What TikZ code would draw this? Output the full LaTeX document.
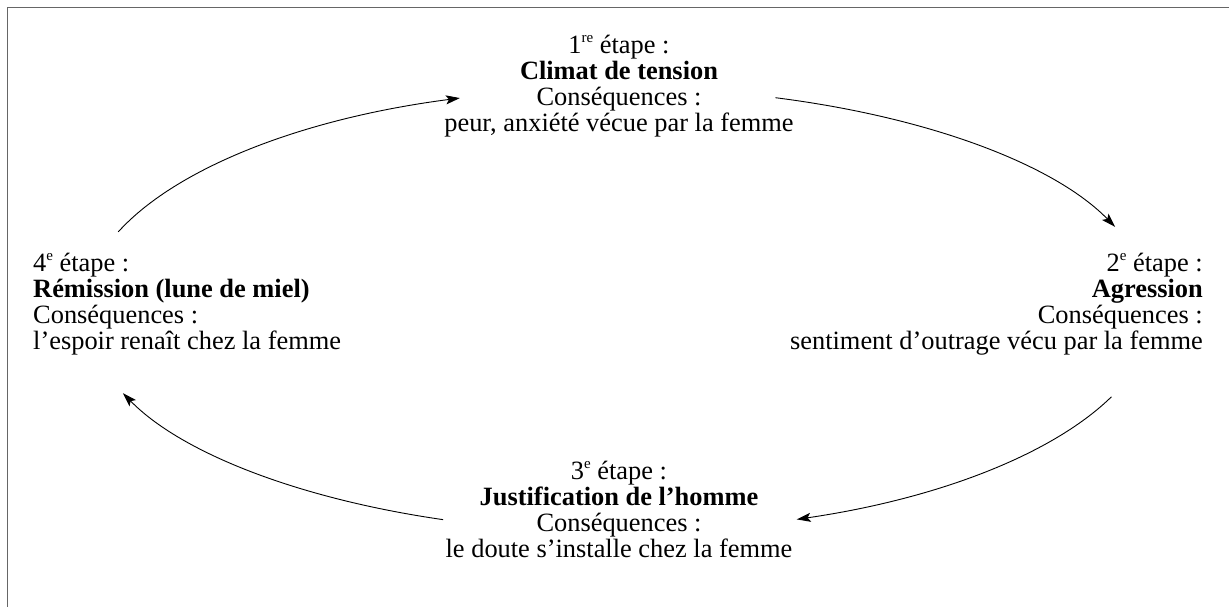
\documentclass[tikz,border=0pt]{standalone}
\usepackage{fontspec}
\setmainfont{Liberation Serif}
\usetikzlibrary{arrows.meta}
\newcommand\ordsup[1]{\raisebox{0.4em}{\fontsize{15}{15}\selectfont #1}}
\begin{document}
\begin{tikzpicture}[x=1pt,y=1pt,
  block/.style={inner sep=0pt, font=\fontsize{26.4}{26}\selectfont},
  conn/.style={line width=0.9pt, -{Stealth[length=14pt,width=9pt,inset=3pt]}},
  frameline/.style={line width=1.5pt, draw=black!60}]
\useasboundingbox (0,0) rectangle (1229,606);
\clip (0,0) rectangle (1229,606);
\draw[frameline] (7.5,-20) -- (7.5,598.5) -- (1250,598.5);

\node[block, align=center, anchor=north] (s1) at (619,571)
  {1\ordsup{re} étape :\\\textbf{Climat de tension}\\Conséquences :\\peur, anxiété vécue par la femme};
\node[block, align=right, anchor=north east] (s2) at (1203,353)
  {2\ordsup{e} étape :\\\textbf{Agression}\\Conséquences :\\sentiment d’outrage vécu par la femme};
\node[block, align=center, anchor=north] (s3) at (619,145)
  {3\ordsup{e} étape :\\\textbf{Justification de l’homme}\\Conséquences :\\le doute s’installe chez la femme};
\node[block, align=left, anchor=north west] (s4) at (33,353)
  {4\ordsup{e} étape :\\\textbf{Rémission (lune de miel)}\\Conséquences :\\l’espoir renaît chez la femme};

\coordinate (e) at (619,296);
\path (e) ++(159.4:535pt and 222pt) coordinate (a1s);
\path (e) ++(73:535pt and 222pt) coordinate (a2s);
\path (e) ++(-23:535pt and 222pt) coordinate (a3s);
\path (e) ++(-109.2:535pt and 222pt) coordinate (a4s);

\draw[conn] (a1s) arc[start angle=159.4, end angle=107.3, x radius=535pt, y radius=222pt];
\draw[conn] (a2s) arc[start angle=73, end angle=22, x radius=535pt, y radius=222pt];
\draw[conn] (a3s) arc[start angle=-23, end angle=-70.6, x radius=535pt, y radius=222pt];
\draw[conn] (a4s) arc[start angle=-109.2, end angle=-158, x radius=535pt, y radius=222pt];
\end{tikzpicture}
\end{document}
